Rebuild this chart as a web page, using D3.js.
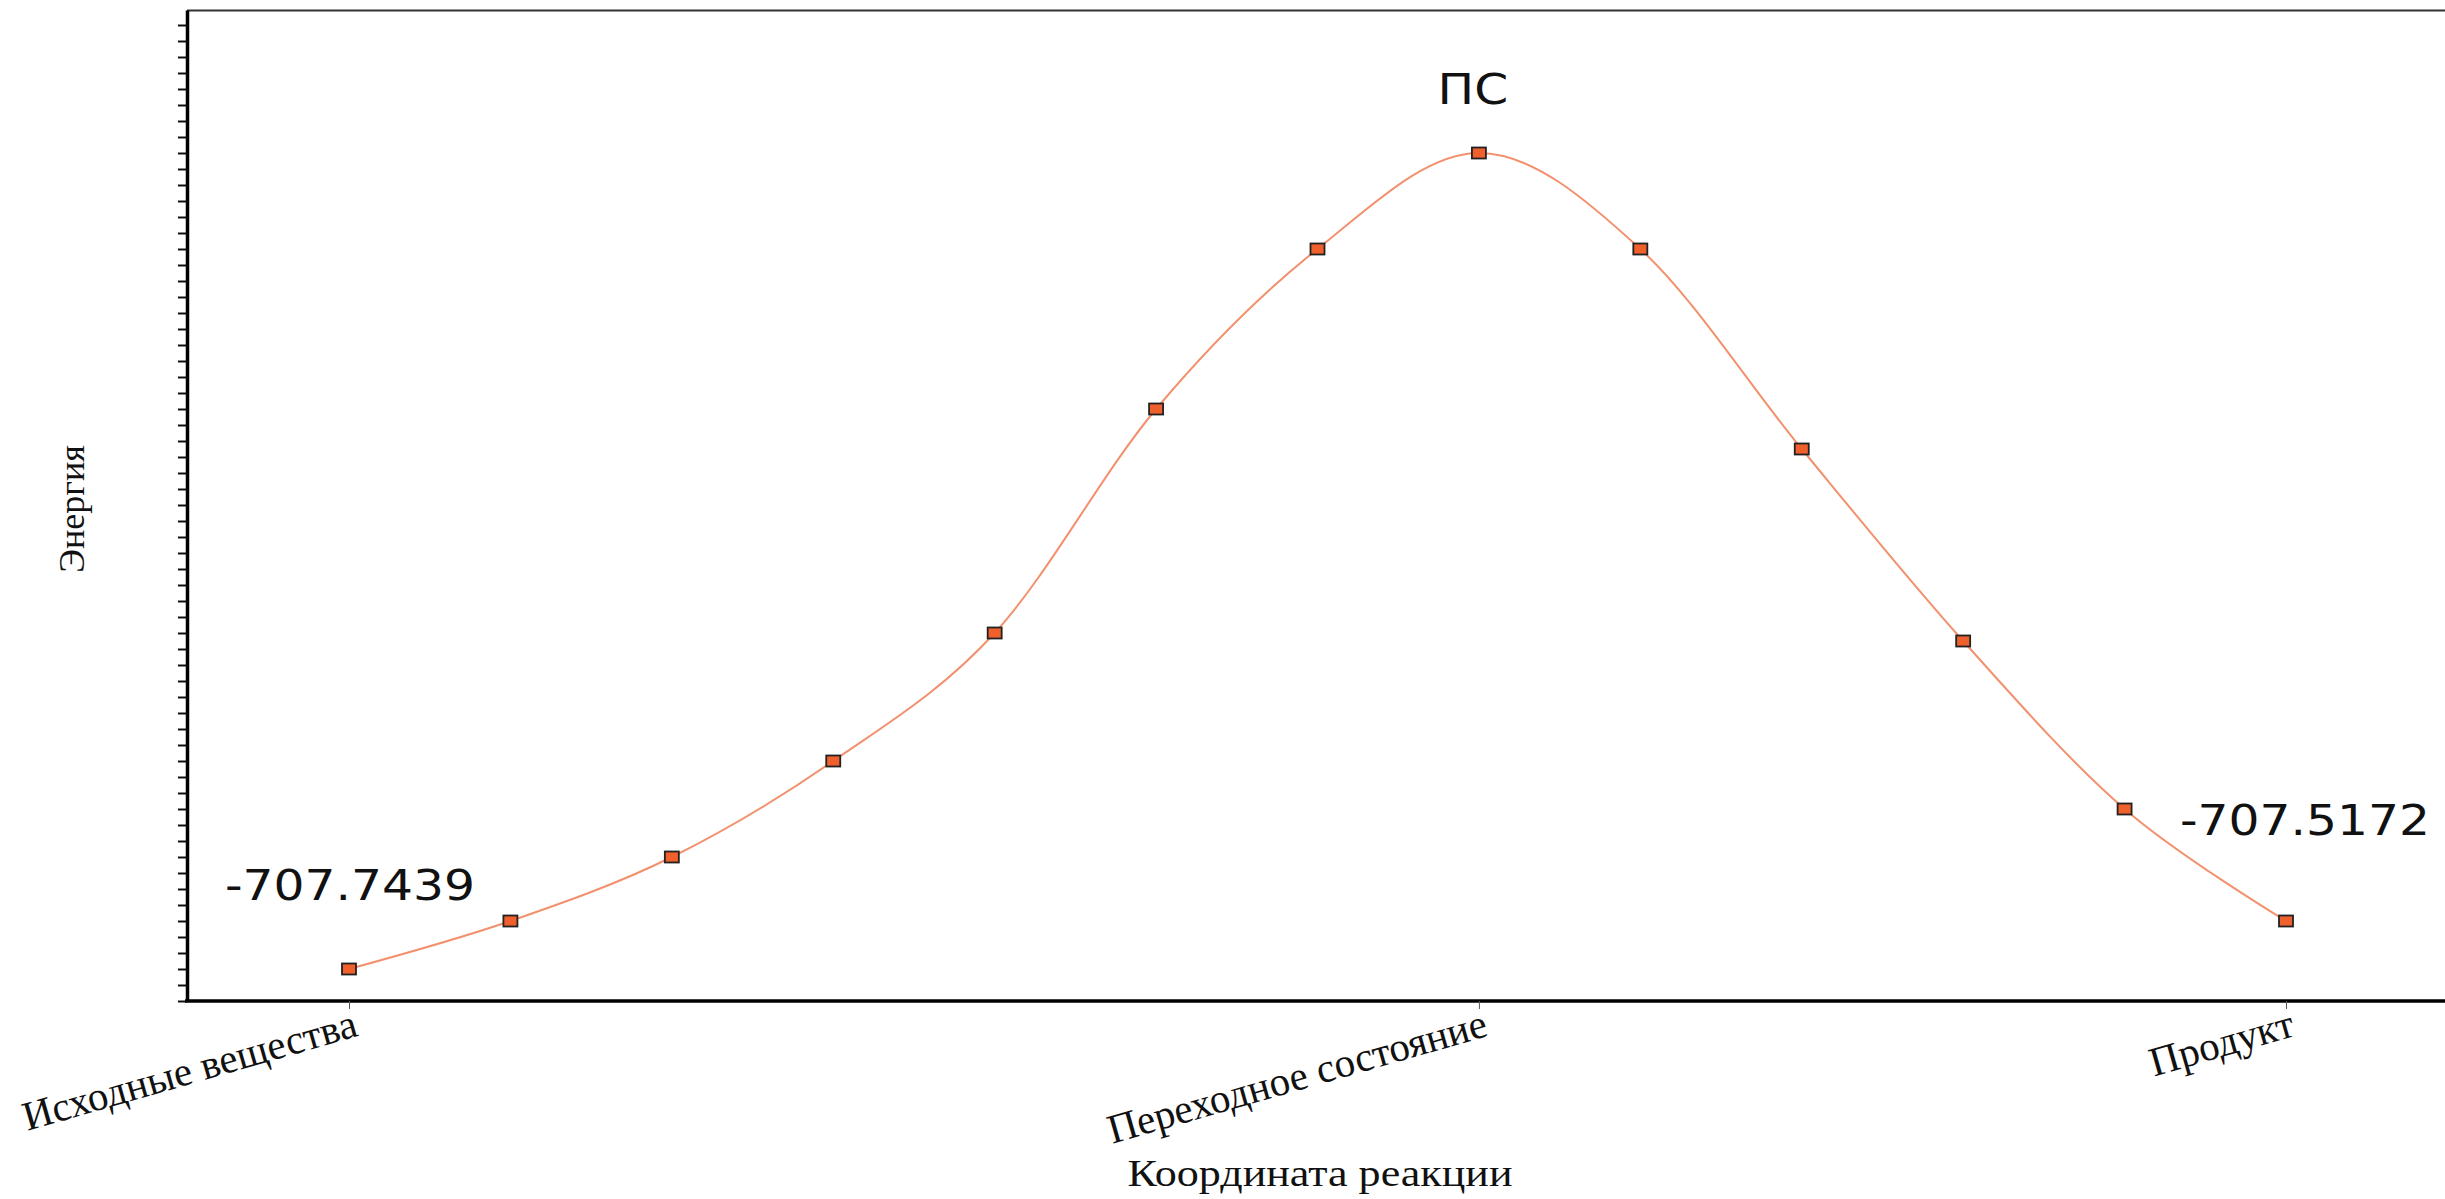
<!DOCTYPE html>
<html>
<head>
<meta charset="utf-8">
<script src="https://cdn.jsdelivr.net/npm/d3@7"></script>
<style>
  body { margin: 0; background: #fff; }
  svg { display: block; }
  .serif { font-family: "Liberation Serif", "Times New Roman", serif; fill: #111; }
  .sans { font-family: "DejaVu Sans", Verdana, sans-serif; fill: #111; }
</style>
</head>
<body>
<div id="chart"></div>
<script>
// points along the reaction path (energy in tick units, axis is unlabelled)
var steps = d3.range(0, 13);
var energy = [2, 5, 9, 15, 23, 37, 47, 53, 47, 34.5, 22.5, 12, 5];

// labelled points on the x axis
var tickSteps = [0, 7, 12];
var tickLabels = ["Исходные вещества", "Переходное состояние", "Продукт"];

// text notes placed near the points
var noteSteps = [0, 7, 12];
var noteTexts = ["-707.7439", "ПС", "-707.5172"];

var width = 2445, height = 1199;
var plotLeft = 187, plotTop = 10, plotBottom = 1001;
var stretch = 1.16; // the original picture is a little wider than tall

var x = d3.scaleLinear().domain([0, 12]).range([349, 2286]);
var y = d3.scaleLinear().domain([0, (plotBottom - plotTop) / 16]).range([plotBottom, plotTop]);

var svg = d3.select("#chart")
    .append("svg")
    .attr("width", width)
    .attr("height", height);

// top border
svg.append("line")
    .attr("x1", plotLeft).attr("x2", width)
    .attr("y1", plotTop + 0.5).attr("y2", plotTop + 0.5)
    .attr("stroke", "#333")
    .attr("stroke-width", 2);

// y axis: only minor ticks, no labels
var yAxis = d3.axisLeft(y)
    .tickValues(d3.range(0, 62))
    .tickSize(9)
    .tickSizeOuter(0)
    .tickFormat("");

var gy = svg.append("g")
    .attr("transform", "translate(" + plotLeft + ",0)")
    .call(yAxis);
gy.select(".domain").attr("stroke", "#000").attr("stroke-width", 3.5);
gy.selectAll(".tick line").attr("stroke", "#111").attr("stroke-width", 2);

// x axis
var xAxis = d3.axisBottom(x)
    .tickValues(tickSteps)
    .tickSize(8)
    .tickSizeOuter(0)
    .tickFormat("");

var gx = svg.append("g")
    .attr("transform", "translate(0," + plotBottom + ")")
    .call(xAxis);
gx.select(".domain")
    .attr("d", "M" + (plotLeft - 2) + ",0H" + width)
    .attr("stroke", "#000").attr("stroke-width", 3.5);
gx.selectAll(".tick line").attr("stroke", "#555").attr("stroke-width", 1);

// rotated category labels
svg.selectAll(".cat")
    .data(tickSteps)
    .enter()
    .append("text")
    .attr("class", "serif cat")
    .attr("text-anchor", "end")
    .attr("font-size", 41)
    .attr("transform", function(d) {
        return "translate(" + (x(d) + 2) + "," + (plotBottom + 5) + ") rotate(-16)";
    })
    .attr("dy", "0.75em")
    .text(function(d, i) { return tickLabels[i]; });

// axis titles
svg.append("text")
    .attr("class", "serif")
    .attr("font-size", 38)
    .attr("text-anchor", "middle")
    .attr("transform", "translate(1320,1186) scale(" + stretch + ",1)")
    .text("Координата реакции");

svg.append("text")
    .attr("class", "serif")
    .attr("font-size", 36)
    .attr("text-anchor", "middle")
    .attr("transform", "translate(84,509) rotate(-90)")
    .text("Энергия");

// smoothed line
var line = d3.line()
    .x(function(d, i) { return x(steps[i]); })
    .y(function(d) { return y(d); })
    .curve(d3.curveCatmullRom.alpha(0));

svg.append("path")
    .attr("d", line(energy))
    .attr("fill", "none")
    .attr("stroke", "#f2916e")
    .attr("stroke-width", 2);

// square markers
svg.selectAll(".point")
    .data(energy)
    .enter()
    .append("rect")
    .attr("class", "point")
    .attr("x", function(d, i) { return x(steps[i]) - 7; })
    .attr("y", function(d) { return y(d) - 5.5; })
    .attr("width", 14)
    .attr("height", 11)
    .attr("fill", "#f0602c")
    .attr("stroke", "#222")
    .attr("stroke-width", 1.8);

// notes
var noteDx = [1, -6, 19];
var noteDy = [-69, -49, -86];
svg.selectAll(".note")
    .data(noteSteps)
    .enter()
    .append("text")
    .attr("class", "sans note")
    .attr("font-size", 42)
    .attr("text-anchor", "middle")
    .attr("transform", function(d, i) {
        return "translate(" + (x(d) + noteDx[i]) + "," + (y(energy[d]) + noteDy[i]) + ") scale(" + stretch + ",1)";
    })
    .text(function(d, i) { return noteTexts[i]; });
</script>
</body>
</html>
